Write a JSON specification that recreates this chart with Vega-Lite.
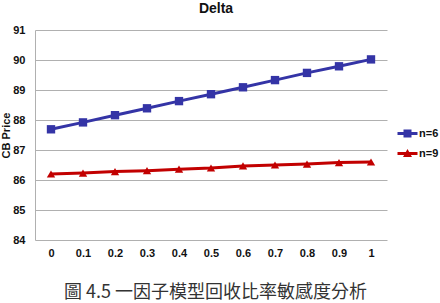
{
  "$schema": "https://vega.github.io/schema/vega-lite/v6.json",
  "width": 352,
  "height": 210,
  "autosize": {"type": "none"},
  "padding": {"left": 35, "top": 30, "right": 53, "bottom": 63},
  "background": "white",
  "config": {
    "view": {"stroke": null},
    "font": "Liberation Sans"
  },
  "title": {
    "text": "Delta",
    "fontSize": 14,
    "fontWeight": "bold",
    "font": "Liberation Sans",
    "color": "#111",
    "anchor": "middle",
    "frame": "group",
    "offset": 8,
    "dx": 5
  },
  "data": {
    "values": [
      {"r": "0", "n": "n=6", "price": 87.69},
      {"r": "0.1", "n": "n=6", "price": 87.92},
      {"r": "0.2", "n": "n=6", "price": 88.16},
      {"r": "0.3", "n": "n=6", "price": 88.39},
      {"r": "0.4", "n": "n=6", "price": 88.63},
      {"r": "0.5", "n": "n=6", "price": 88.86},
      {"r": "0.6", "n": "n=6", "price": 89.09},
      {"r": "0.7", "n": "n=6", "price": 89.33},
      {"r": "0.8", "n": "n=6", "price": 89.57},
      {"r": "0.9", "n": "n=6", "price": 89.79},
      {"r": "1", "n": "n=6", "price": 90.02},
      {"r": "0", "n": "n=9", "price": 86.2},
      {"r": "0.1", "n": "n=9", "price": 86.23},
      {"r": "0.2", "n": "n=9", "price": 86.28},
      {"r": "0.3", "n": "n=9", "price": 86.31},
      {"r": "0.4", "n": "n=9", "price": 86.36},
      {"r": "0.5", "n": "n=9", "price": 86.4},
      {"r": "0.6", "n": "n=9", "price": 86.47},
      {"r": "0.7", "n": "n=9", "price": 86.5},
      {"r": "0.8", "n": "n=9", "price": 86.53},
      {"r": "0.9", "n": "n=9", "price": 86.58},
      {"r": "1", "n": "n=9", "price": 86.6}
    ]
  },
  "encoding": {
    "x": {
      "field": "r",
      "type": "ordinal",
      "sort": null,
      "scale": {"type": "point", "padding": 0.5},
      "axis": {
        "title": "圖 4.5   一因子模型回收比率敏感度分析",
        "titleFont": "Noto Sans CJK TC",
        "titleFontSize": 18,
        "titleFontWeight": "normal",
        "titleColor": "#333",
        "titleBaseline": "middle",
        "titleAlign": "center",
        "titleY": 52,
        "titleX": 180,
        "labelAngle": 0,
        "labelFont": "Liberation Sans",
        "labelFontWeight": "bold",
        "labelFontSize": 11,
        "labelColor": "#111",
        "labelPadding": 7,
        "ticks": false,
        "domain": false,
        "grid": false
      }
    },
    "y": {
      "field": "price",
      "type": "quantitative",
      "scale": {"domain": [84, 91], "zero": false, "nice": false},
      "axis": {
        "title": "CB Price",
        "titleFont": "Liberation Sans",
        "titleFontSize": 11,
        "titleFontWeight": "bold",
        "titleColor": "#111",
        "titleX": -26,
        "titleY": 105,
        "titleAlign": "center",
        "titleBaseline": "alphabetic",
        "titleAngle": -90,
        "values": [84, 85, 86, 87, 88, 89, 90, 91],
        "labelFont": "Liberation Sans",
        "labelFontWeight": "bold",
        "labelFontSize": 11,
        "labelColor": "#111",
        "labelPadding": 10,
        "ticks": false,
        "domain": true,
        "domainColor": "#b0b0b0",
        "grid": true,
        "gridColor": "#b0b0b0",
        "gridWidth": 1
      }
    }
  },
  "layer": [
    {
      "mark": {"type": "line", "strokeWidth": 3},
      "encoding": {
        "color": {
          "field": "n",
          "type": "nominal",
          "scale": {"domain": ["n=6", "n=9"], "range": ["#3434A6", "#C20000"]},
          "legend": {
            "title": null,
            "orient": "none",
            "legendX": 367,
            "legendY": 98,
            "padding": 0,
            "symbolSize": 100,
            "symbolStrokeWidth": 0,
            "symbolOpacity": 1,
            "labelFont": "Liberation Sans",
            "labelFontWeight": "bold",
            "labelFontSize": 11,
            "labelColor": "#111",
            "labelOffset": 6,
            "rowPadding": 8,
            "encode": {
              "symbols": {
                "update": {
                  "shape": {"signal": "datum.value == 'n=6' ? 'M-2,-0.3L2,-0.3L2,0.3L-2,0.3Z M-0.8,-0.8L0.8,-0.8L0.8,0.8L-0.8,0.8Z' : 'M-2,-0.3L2,-0.3L2,0.3L-2,0.3Z M0,-0.9L0.9,0.7L-0.9,0.7Z'"},
                  "fill": {"signal": "datum.value == 'n=6' ? '#3434A6' : '#C20000'"},
                  "strokeWidth": {"value": 0},
                  "opacity": {"value": 1},
                  "fillOpacity": {"value": 1}
                }
              }
            }
          }
        }
      }
    },
    {
      "transform": [{"filter": "datum.n == 'n=6'"}],
      "mark": {"type": "point", "filled": true, "opacity": 1, "shape": "square", "color": "#3434A6", "size": 70}
    },
    {
      "transform": [{"filter": "datum.n == 'n=9'"}],
      "mark": {"type": "point", "filled": true, "opacity": 1, "shape": "triangle-up", "color": "#C20000", "size": 70}
    }
  ]
}
